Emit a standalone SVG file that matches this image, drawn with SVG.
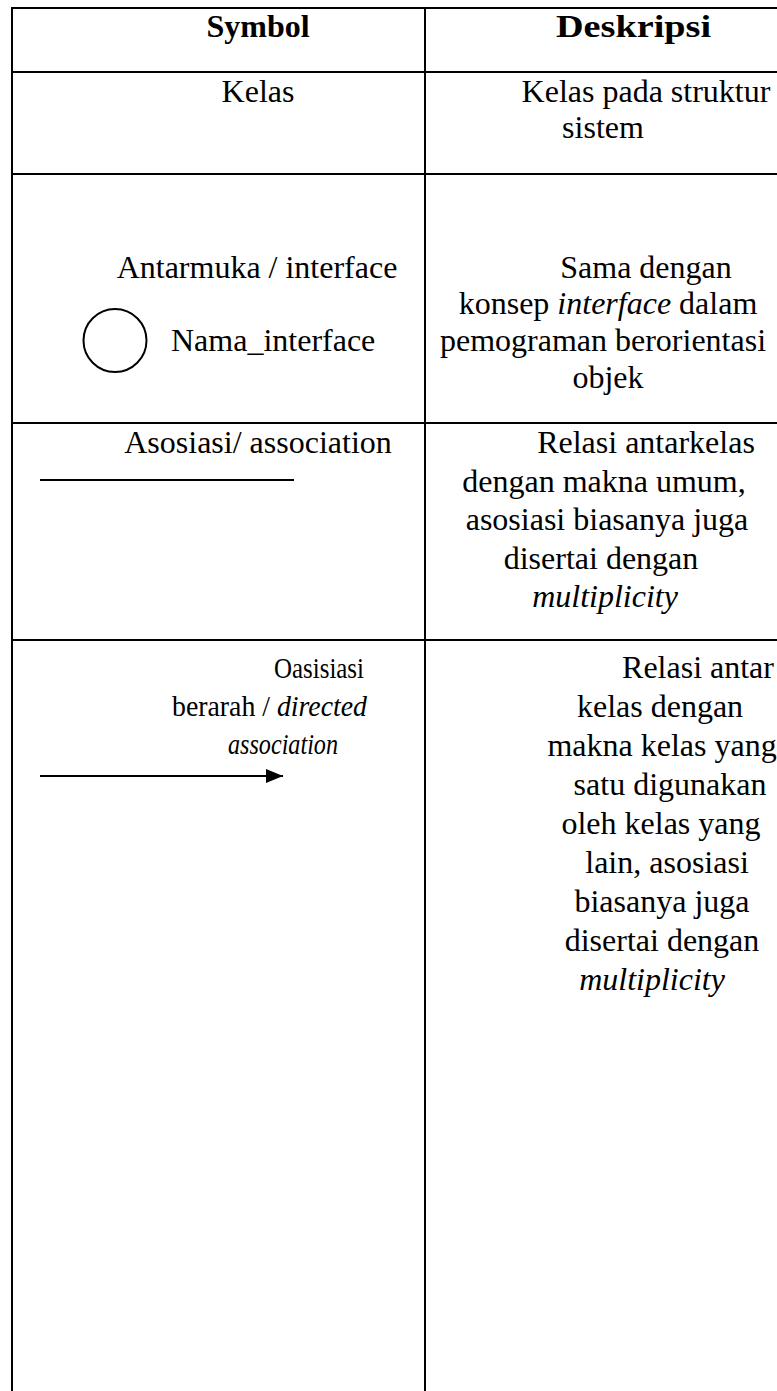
<svg xmlns="http://www.w3.org/2000/svg" width="777" height="1391" viewBox="0 0 777 1391">
  <style>
    .grid { stroke: #000; stroke-width: 2; fill: none; }
    text { font-family: "Liberation Serif", "Times New Roman", serif; font-size: 32px; fill: #000; }
    .hd { font-weight: bold; }
    .c { text-anchor: middle; }
    .i { font-style: italic; }
    .nar { font-size: 30px; }
    .sym { stroke: #000; stroke-width: 2; fill: none; }
  </style>
  <defs>
    <marker id="head" markerWidth="17" markerHeight="14" refX="17" refY="7" orient="auto" markerUnits="userSpaceOnUse">
      <path d="M0,0 L17,7 L0,14 Z" fill="#000"/>
    </marker>
  </defs>
  <rect width="777" height="1391" fill="#fff"/>

  <!-- table rules -->
  <g id="table" class="grid">
    <line x1="12" y1="8" x2="777" y2="8"/>
    <line x1="12" y1="72" x2="777" y2="72"/>
    <line x1="12" y1="174" x2="777" y2="174"/>
    <line x1="12" y1="423" x2="777" y2="423"/>
    <line x1="12" y1="640" x2="777" y2="640"/>
    <line x1="12" y1="7" x2="12" y2="1391"/>
    <line x1="425" y1="7" x2="425" y2="1391"/>
  </g>

  <!-- header row -->
  <g id="header">
    <text class="hd c" x="258" y="37">Symbol</text>
    <text class="hd" x="556" y="37" textLength="155" lengthAdjust="spacingAndGlyphs">Deskripsi</text>
  </g>

  <!-- class -->
  <g id="row-kelas">
    <text class="c" x="258" y="102">Kelas</text>
    <text class="c" x="646" y="102">Kelas pada struktur</text>
    <text class="c" x="603" y="138">sistem</text>
  </g>

  <!-- interface -->
  <g id="row-interface">
    <text class="c" x="257" y="278">Antarmuka / interface</text>
    <circle class="sym" cx="115" cy="340.5" r="31.5"/>
    <text x="171" y="351">Nama_interface</text>
    <text class="c" x="646" y="278">Sama dengan</text>
    <text class="c" x="608" y="314">konsep <tspan class="i">interface</tspan> dalam</text>
    <text class="c" x="603" y="351">pemograman berorientasi</text>
    <text class="c" x="608" y="388">objek</text>
  </g>

  <!-- association -->
  <g id="row-association">
    <text class="c" x="258" y="453">Asosiasi/ association</text>
    <text class="c" x="646" y="453">Relasi antarkelas</text>
    <text class="c" x="604" y="491.5">dengan makna umum,</text>
    <text class="c" x="607" y="530">asosiasi biasanya juga</text>
    <text class="c" x="601" y="568.5">disertai dengan</text>
    <text class="c i" x="605" y="607">multiplicity</text>
  </g>

  <!-- directed association -->
  <g id="row-directed">
    <text class="nar" x="274" y="678" textLength="90" lengthAdjust="spacingAndGlyphs">Oasisiasi</text>
    <text class="nar" x="172" y="716" textLength="195" lengthAdjust="spacingAndGlyphs">berarah / <tspan class="i">directed</tspan></text>
    <text class="nar i" x="228" y="754" textLength="110" lengthAdjust="spacingAndGlyphs">association</text>
    <text class="c" x="698" y="678">Relasi antar</text>
    <text class="c" x="660" y="717">kelas dengan</text>
    <text class="c" x="662" y="756">makna kelas yang</text>
    <text class="c" x="670" y="795">satu digunakan</text>
    <text class="c" x="661" y="834">oleh kelas yang</text>
    <text class="c" x="667" y="873">lain, asosiasi</text>
    <text class="c" x="662" y="912">biasanya juga</text>
    <text class="c" x="662" y="951">disertai dengan</text>
    <text class="c i" x="652" y="990">multiplicity</text>
  </g>

  <!-- symbol lines -->
  <g id="connectors">
    <line class="sym" x1="40" y1="480" x2="294" y2="480"/>
    <line class="sym" x1="40" y1="776" x2="283" y2="776" marker-end="url(#head)"/>
  </g>
</svg>
